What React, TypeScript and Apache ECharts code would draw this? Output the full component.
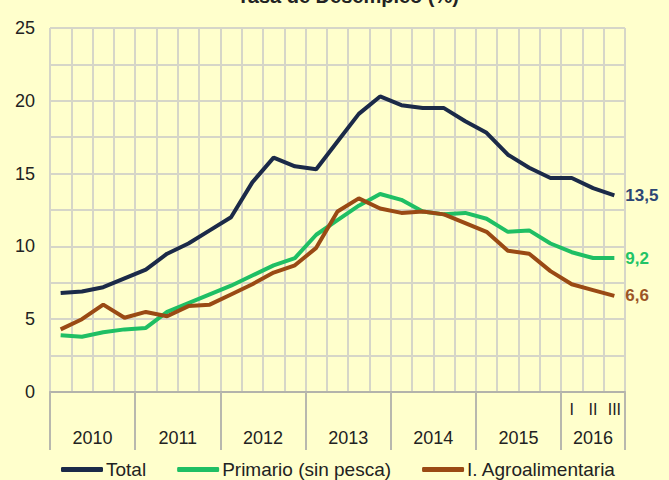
import React, { useEffect, useRef } from "react";
import * as echarts from "echarts";

const quarters: string[] = [
  "2010-I", "2010-II", "2010-III", "2010-IV",
  "2011-I", "2011-II", "2011-III", "2011-IV",
  "2012-I", "2012-II", "2012-III", "2012-IV",
  "2013-I", "2013-II", "2013-III", "2013-IV",
  "2014-I", "2014-II", "2014-III", "2014-IV",
  "2015-I", "2015-II", "2015-III", "2015-IV",
  "2016-I", "2016-II", "2016-III",
];
const years: string[] = ["2010", "2011", "2012", "2013", "2014", "2015", "2016"];
const quartersPerYear: number[] = [4, 4, 4, 4, 4, 4, 3];

const total: number[] = [
  6.8, 6.9, 7.2, 7.8, 8.4, 9.5, 10.2, 11.1, 12.0, 14.4, 16.1, 15.5, 15.3,
  17.2, 19.1, 20.3, 19.7, 19.5, 19.5, 18.6, 17.8, 16.3, 15.4, 14.7, 14.7, 14.0, 13.5,
];
const primario: number[] = [
  3.9, 3.8, 4.1, 4.3, 4.4, 5.5, 6.1, 6.7, 7.3, 8.0, 8.7, 9.2, 10.8,
  11.8, 12.8, 13.6, 13.2, 12.4, 12.2, 12.3, 11.9, 11.0, 11.1, 10.2, 9.6, 9.2, 9.2,
];
const agro: number[] = [
  4.3, 5.0, 6.0, 5.1, 5.5, 5.2, 5.9, 6.0, 6.7, 7.4, 8.2, 8.7, 9.9,
  12.4, 13.3, 12.6, 12.3, 12.4, 12.2, 11.6, 11.0, 9.7, 9.5, 8.3, 7.4, 7.0, 6.6,
];

const seriesNames = ["Total", "Primario (sin pesca)", "I. Agroalimentaria"];
const lineColors = ["#1b2a48", "#1fbf64", "#9a4a14"];
const labelColors = ["#2c4674", "#22c466", "#9c5526"];

const FONT = "'Liberation Sans', Arial, sans-serif";

function buildYearAxis() {
  const n = quarters.length * 2 + 1;
  const labels: string[] = new Array(n).fill("");
  const ticks: boolean[] = new Array(n).fill(false);
  let pos = 0;
  ticks[0] = true;
  years.forEach((y, i) => {
    const q = quartersPerYear[i];
    labels[pos + q] = y;
    pos += q * 2;
    ticks[pos] = true;
  });
  return { labels, ticks };
}

export default function App() {
  const ref = useRef<HTMLDivElement>(null);
  useEffect(() => {
    if (!ref.current) return;
    const chart = echarts.init(ref.current, null, { renderer: "svg" });
    const { labels: yearLabels, ticks: yearTicks } = buildYearAxis();
    const mainLabels = quarters.map((q) => {
      const parts = q.split("-");
      return parts[0] === "2016" ? parts[1] : "";
    });
    const fmt = (v: number) => v.toFixed(1).replace(".", ",");
    const seriesData = [total, primario, agro];
    chart.setOption({
      animation: false,
      backgroundColor: "#ffffcc",
      title: {
        text: "Tasa de Desempleo (%)",
        left: 343,
        textAlign: "center",
        top: -19,
        textStyle: { fontSize: 20, fontWeight: "bold", color: "#222", fontFamily: FONT },
      },
      grid: { left: 50, right: 44, top: 28, bottom: 88, containLabel: false },
      legend: {
        top: 460,
        left: 61,
        padding: 0,
        icon: "roundRect",
        itemWidth: 42,
        itemHeight: 5,
        itemGap: 31,
        textStyle: {
          fontSize: 19,
          lineHeight: 19,
          color: "#222",
          fontFamily: FONT,
          padding: [0, 0, 0, -2],
        },
        data: seriesNames,
      },
      xAxis: [
        {
          type: "category",
          data: mainLabels,
          boundaryGap: true,
          position: "bottom",
          axisLine: { lineStyle: { color: "#b3b3ab", width: 2 } },
          axisTick: { show: false },
          axisLabel: { interval: 0, margin: 9, fontSize: 16, color: "#222", fontFamily: FONT },
          splitLine: { show: true, interval: 0, lineStyle: { color: "#d6d6c8", width: 2 } },
        },
        {
          type: "category",
          data: yearLabels,
          boundaryGap: false,
          position: "bottom",
          axisLine: { show: false },
          axisTick: {
            show: true,
            interval: (i: number) => yearTicks[i],
            length: 58,
            lineStyle: { color: "#b8b8ae", width: 2 },
          },
          axisLabel: {
            interval: (i: number, v: string) => v !== "",
            margin: 37,
            fontSize: 18,
            color: "#222",
            fontFamily: FONT,
          },
          splitLine: { show: false },
        },
      ],
      yAxis: {
        type: "value",
        min: 0,
        max: 25,
        interval: 2.5,
        axisLine: { show: false },
        axisTick: { show: false },
        axisLabel: {
          margin: 15,
          fontSize: 18,
          color: "#222",
          fontFamily: FONT,
          formatter: (v: number) => (v % 5 === 0 ? String(v) : ""),
        },
        splitLine: { lineStyle: { color: "#d6d6c8", width: 2 } },
      },
      series: seriesNames.map((name, i) => ({
        name,
        type: "line",
        xAxisIndex: 0,
        data: seriesData[i],
        symbol: "none",
        lineStyle: { color: lineColors[i], width: 4 },
        itemStyle: { color: lineColors[i] },
        endLabel: {
          show: true,
          distance: 11,
          formatter: (p: any) => fmt(p.value),
          color: labelColors[i],
          fontSize: 17,
          fontWeight: "bold",
          fontFamily: FONT,
        },
      })),
    });
    return () => chart.dispose();
  }, []);
  return (
    <div
      ref={ref}
      style={{ position: "fixed", left: 0, top: 0, width: 669, height: 480 }}
    />
  );
}
